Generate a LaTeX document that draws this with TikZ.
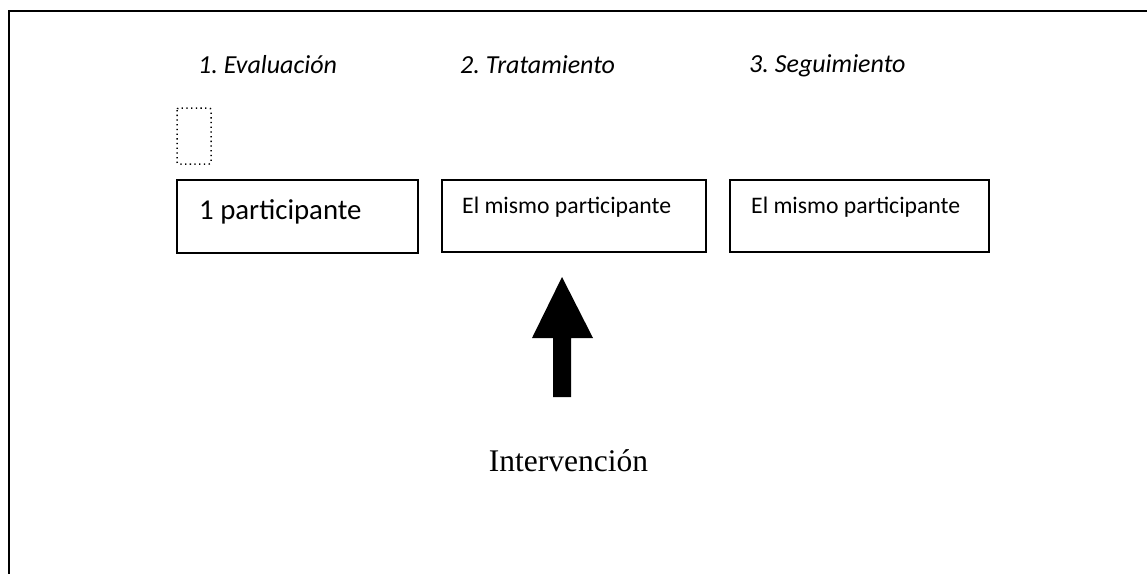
\documentclass[tikz,border=0pt]{standalone}
\usepackage{fontspec}
\setmainfont{Carlito}
\newfontfamily\timesf{Liberation Serif}
\frenchspacing
\begin{document}
\begin{tikzpicture}[x=1pt,y=-1pt,
  frame/.style={line width=2.8pt},
  stagebox/.style={draw,line width=1.5pt,inner sep=0pt},
  phase/.style={anchor=base west,inner sep=0pt,font=\fontsize{26}{30}\selectfont\itshape},
  boxtext/.style={anchor=base west,inner sep=0pt},
  bigarrow/.style={fill=black}]
\useasboundingbox (0,0) rectangle (1147,574);
\coordinate (tl) at (9,11);
\coordinate (tr) at (1147,11);
\coordinate (bl) at (9,574);
\draw[frame] (tr) -- (tl) -- (bl);
% phase labels
\node[phase] (p1) at (198,73) {1. Evaluación};
\node[phase] (p2) at (460,73) {2. Tratamiento};
\node[phase] (p3) at (749,72.5) {3. Seguimiento};
% dotted small box
\draw[line width=1.5pt,dash pattern=on 1.3pt off 3.4pt,rounded corners=2pt] (177,108) rectangle (211,164);
% boxes
\node[stagebox,minimum width=241pt,minimum height=73pt] (b1) at (297.5,216.5) {};
\node[stagebox,minimum width=264pt,minimum height=72pt] (b2) at (574,216) {};
\node[stagebox,minimum width=259pt,minimum height=72pt] (b3) at (859.5,216) {};
\node[boxtext,font=\fontsize{28.8}{33}\selectfont] (t1) at (199,219) {1 participante};
\node[boxtext,font=\fontsize{23.7}{28}\selectfont] (t2) at (462,213) {El mismo participante};
\node[boxtext,font=\fontsize{23.7}{28}\selectfont] (t3) at (751,213) {El mismo participante};
% block arrow
\fill[bigarrow] (553,397) -- (553,338) -- (532,338) -- (562,277) -- (593,338) -- (571,338) -- (571,397) -- cycle;
\node[anchor=base,inner sep=0pt,font=\timesf\fontsize{31.5}{36}\selectfont] (iv) at (568.5,471) {Intervención};
\end{tikzpicture}
\end{document}
